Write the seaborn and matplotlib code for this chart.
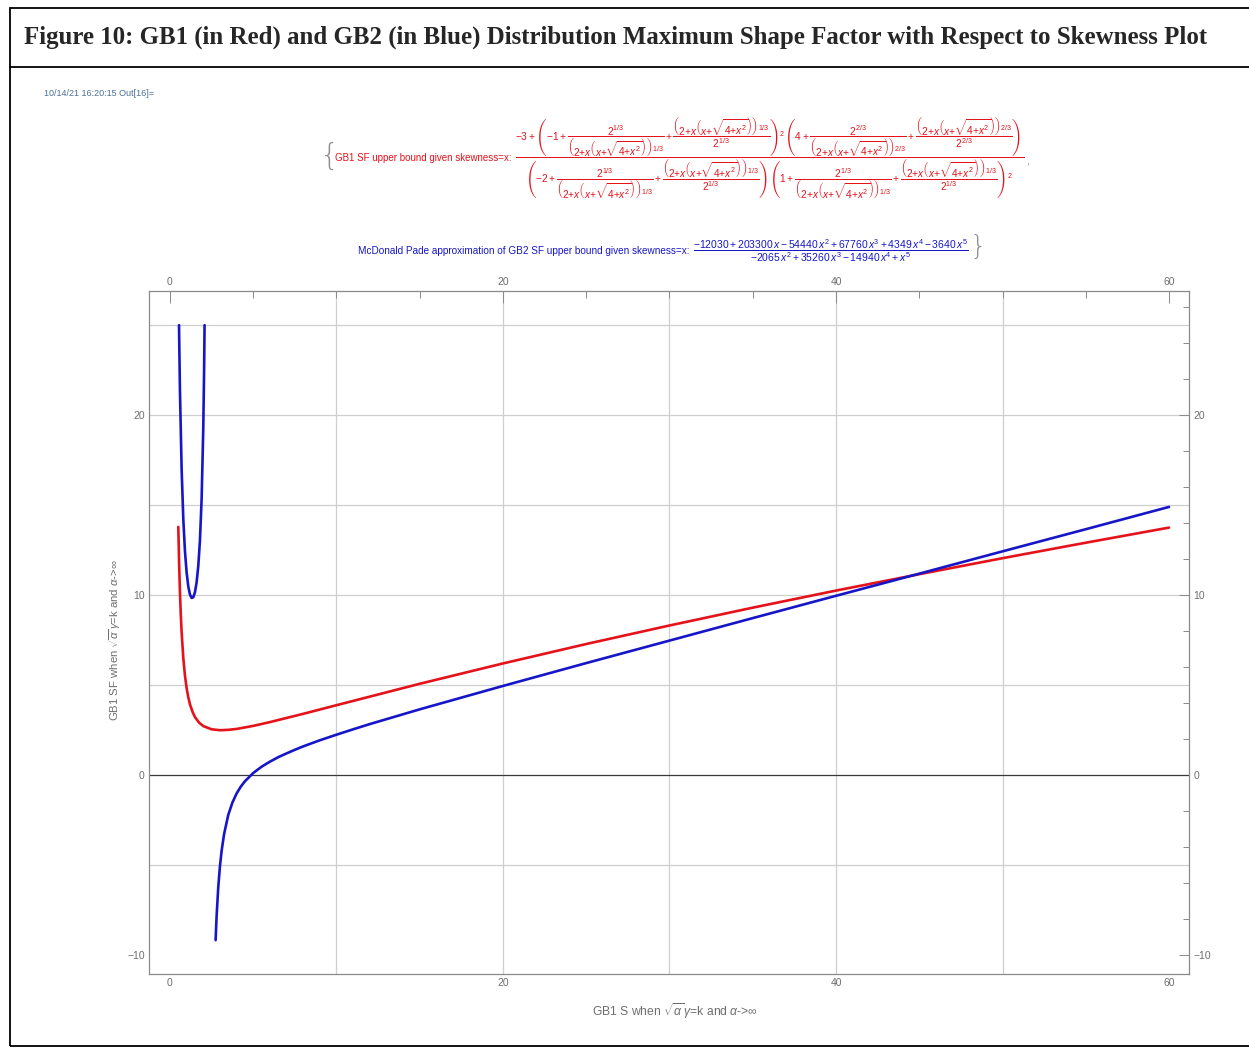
"""
GB1 (red) and GB2 (blue) maximum shape factor against skewness, redrawn with seaborn.
Figure 10 style: boxed title, the two formulas printed above a framed plot.
"""

import matplotlib
matplotlib.use('Agg')
import matplotlib.pyplot as plt
from matplotlib.patches import Rectangle
from matplotlib.lines import Line2D
from matplotlib.ticker import MultipleLocator, FixedLocator
import pandas as pd
import seaborn as sns

TITLE = ('Figure 10: GB1 (in Red) and GB2 (in Blue) Distribution Maximum Shape Factor '
         'with Respect to Skewness Plot')
STAMP = '10/14/21 16:20:15 Out[16]='
RED_NAME = 'GB1 SF upper bound given skewness=x:'
BLUE_NAME = 'McDonald Pade approximation of GB2 SF upper bound given skewness=x:'
X_LABEL = r'GB1 S when $\sqrt{\alpha}\,\gamma$=k and $\alpha$->$\infty$'
Y_LABEL = r'GB1 SF when $\sqrt{\alpha}\,\gamma$=k and $\alpha$->$\infty$'

# GB1 SF upper bound (red)
gb1_x = [0.5, 0.55, 0.6, 0.65, 0.7, 0.8, 0.9, 1.0, 1.1, 1.2, 1.35, 1.5, 1.75, 2.0, 2.5,
         3.0, 3.5, 4.0, 5.0, 6.0, 8.0, 10, 15, 20, 25, 30, 35, 40, 45, 50, 55, 60]
gb1_sf = [13.79, 11.71, 10.13, 8.90, 7.93, 6.50, 5.52, 4.83, 4.32, 3.93, 3.52, 3.22, 2.91,
          2.72, 2.54, 2.49, 2.51, 2.56, 2.73, 2.94, 3.40, 3.88, 5.07, 6.20, 7.28, 8.31,
          9.30, 10.25, 11.16, 12.05, 12.91, 13.75]

# GB2 Pade approximation (blue), left branch (U shape, cut at the top)
gb2_u_x = [0.543, 0.55, 0.6, 0.7, 0.8, 0.9, 1.0, 1.1, 1.2, 1.3, 1.4, 1.5, 1.6, 1.7, 1.8,
           1.9, 2.0, 2.05, 2.077]
gb2_u_sf = [25.0, 24.47, 21.32, 16.98, 14.23, 12.43, 11.25, 10.48, 10.03, 9.84, 9.88,
            10.16, 10.71, 11.62, 13.04, 15.33, 19.30, 22.54, 25.0]

# GB2 Pade approximation (blue), right branch
gb2_x = [2.74, 2.8, 2.9, 3.0, 3.1, 3.25, 3.5, 3.75, 4.0, 4.25, 4.5, 5.0, 5.5, 6.0, 6.5,
         7.0, 7.5, 8.0, 9.0, 10, 11, 12, 15, 20, 25, 30, 35, 40, 45, 50, 55, 60]
gb2_sf = [-9.18, -7.85, -6.23, -5.08, -4.22, -3.28, -2.22, -1.53, -1.03, -0.65, -0.35,
          0.11, 0.46, 0.74, 0.99, 1.20, 1.40, 1.59, 1.93, 2.24, 2.54, 2.83, 3.65, 4.95,
          6.22, 7.47, 8.72, 9.96, 11.19, 12.43, 13.66, 14.90]

x_ticks = [0, 20, 40, 60]
y_ticks = [-10, 0, 10, 20]
x_grid = [10, 20, 30, 40, 50]
y_grid = [-5, 5, 10, 15, 20, 25]

W, H = 1249, 1051
RED = '#e4121b'
BLUE = '#1616c8'
GRAY = '#8a8a8a'
LABEL_GRAY = '#6e6e6e'


def px(x, y):
    """pixel position (from top left) -> figure fraction"""
    return x / W, 1 - y / H


def red_formula():
    """Build the mathtext for the GB1 bound."""
    inner = r'{\left(2{+}x{\left(x{+}\sqrt{4{+}x^2}\right)}\right)}'
    a13 = r'\dfrac{2^{1/3}}{' + inner + r'^{1/3}}'
    b13 = r'\dfrac{' + inner + r'^{1/3}}{2^{1/3}}'
    a23 = r'\dfrac{2^{2/3}}{' + inner + r'^{2/3}}'
    b23 = r'\dfrac{' + inner + r'^{2/3}}{2^{2/3}}'
    num = (r'-3+{\left(-1+' + a13 + '+' + b13 + r'\right)}^2'
           r'{\left(4+' + a23 + '+' + b23 + r'\right)}')
    den = (r'{\left(-2+' + a13 + '+' + b13 + r'\right)}'
           r'{\left(1+' + a13 + '+' + b13 + r'\right)}^2')
    return r'$\dfrac{' + num + '}{' + den + '}$'


def blue_formula():
    num = r'-12030+203300\,x-54440\,x^2+67760\,x^3+4349\,x^4-3640\,x^5'
    den = r'-2065\,x^2+35260\,x^3-14940\,x^4+x^5'
    return r'$\dfrac{' + num + '}{' + den + '}$'


def text_after(fig, txt, label, dx, y, **kw):
    """Put a small mark right after the end of a drawn text."""
    renderer = fig.canvas.get_renderer()
    box = txt.get_window_extent(renderer)
    x_end = box.x1 / fig.dpi / fig.get_figwidth()
    return fig.text(x_end + dx / W, px(0, y)[1], label, **kw)


def create_figure(fname_fig):
    sns.set_style('white')
    plt.rcParams['font.family'] = ['Liberation Sans', 'DejaVu Sans']
    plt.rcParams['mathtext.fontset'] = 'custom'
    plt.rcParams['mathtext.rm'] = 'Liberation Sans'
    plt.rcParams['mathtext.it'] = 'Liberation Sans:italic'
    plt.rcParams['mathtext.bf'] = 'Liberation Sans:bold'
    plt.rcParams['mathtext.sf'] = 'Liberation Sans'

    fig = plt.figure(figsize=(W / 100, H / 100), dpi=100)

    # outer box and title bar
    fig.add_artist(Rectangle(px(10, 1046), (1300 - 10) / W, (1046 - 8) / H, fill=False,
                             lw=1.3, ec='black', transform=fig.transFigure))
    fig.add_artist(Line2D([10 / W, 1.0], [px(0, 67)[1]] * 2, lw=1.3, color='black',
                          transform=fig.transFigure))
    fig.text(*px(616, 37), TITLE, ha='center', va='center', fontsize=17.9,
             fontweight='bold', family='Liberation Serif')
    fig.text(*px(44, 93), STAMP, ha='left', va='center', fontsize=6.5, color='#4a6f98')

    # formulas
    fig.text(*px(330, 156), '{', ha='center', va='center', fontsize=22, color='#909090',
             family='DejaVu Sans', fontweight='light')
    fig.text(*px(512, 158), RED_NAME, ha='right', va='center', fontsize=7, color=RED)
    red_txt = fig.text(*px(515, 158), red_formula(), ha='left', va='center', fontsize=7.3,
                       color=RED)
    fig.text(*px(690, 251), BLUE_NAME, ha='right', va='center', fontsize=7.2, color=BLUE)
    blue_txt = fig.text(*px(693, 251), blue_formula(), ha='left', va='center', fontsize=7.5,
                        color=BLUE)
    text_after(fig, red_txt, ',', 2, 162, ha='left', va='center', fontsize=8,
               color='#909090')
    text_after(fig, blue_txt, '}', 1, 246, ha='left', va='center', fontsize=19,
               color='#909090', family='DejaVu Sans', fontweight='light')

    # plot frame
    ax = fig.add_axes([149 / W, 1 - 974 / H, 1040 / W, 683 / H])
    for xg in x_grid:
        ax.axvline(xg, color='#cfcfcf', lw=0.9, zorder=0)
    for yg in y_grid:
        ax.axhline(yg, color='#cfcfcf', lw=0.9, zorder=0)
    ax.axhline(0, color='#3a3a3a', lw=0.9, zorder=1)

    df_red = pd.DataFrame({'x': gb1_x, 'sf': gb1_sf})
    df_u = pd.DataFrame({'x': gb2_u_x, 'sf': gb2_u_sf})
    df_blue = pd.DataFrame({'x': gb2_x, 'sf': gb2_sf})
    sns.lineplot(data=df_red, x='x', y='sf', color=RED, lw=1.9, ax=ax, zorder=3)
    sns.lineplot(data=df_u, x='x', y='sf', color=BLUE, lw=1.9, ax=ax, zorder=3)
    sns.lineplot(data=df_blue, x='x', y='sf', color=BLUE, lw=1.9, ax=ax, zorder=4)

    ax.set_xlim(-1.26, 61.2)
    ax.set_ylim(-11.06, 26.9)
    ax.xaxis.set_major_locator(FixedLocator(x_ticks))
    ax.yaxis.set_major_locator(FixedLocator(y_ticks))
    ax.xaxis.set_minor_locator(MultipleLocator(5))
    ax.yaxis.set_minor_locator(MultipleLocator(2))

    for spine in ax.spines.values():
        spine.set_color(GRAY)
        spine.set_linewidth(0.9)
    ax.tick_params(which='both', direction='in', top=True, right=True, labeltop=True,
                   labelright=True, color=GRAY, width=0.7, labelcolor=LABEL_GRAY,
                   labelsize=7.5, pad=3)
    ax.tick_params(axis='x', which='major', length=8.5)
    ax.tick_params(axis='x', which='minor', length=5)
    ax.tick_params(axis='y', which='major', length=7)
    ax.tick_params(axis='y', which='minor', length=4)

    ax.set_xlabel(X_LABEL, fontsize=8.7, color=LABEL_GRAY, va='center')
    ax.set_ylabel(Y_LABEL, fontsize=8.2, color=LABEL_GRAY, va='center')
    ax.xaxis.set_label_coords(0.506, -0.054)
    ax.yaxis.set_label_coords(-0.033, 0.489)

    fig.savefig(fname_fig, dpi=100)


def main():
    create_figure('out.png')


if __name__ == '__main__':
    main()
